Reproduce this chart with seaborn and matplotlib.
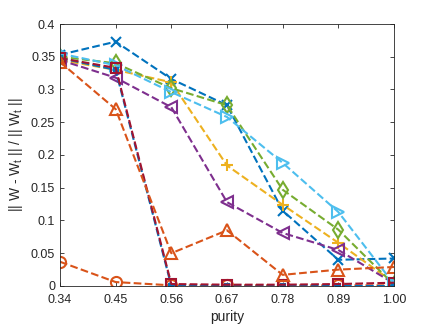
import pandas as pd
import seaborn as sns
import matplotlib
matplotlib.use('Agg')
import matplotlib.pyplot as plt

# purity levels on the x axis
purity = [0.34, 0.45, 0.56, 0.67, 0.78, 0.89, 1.00]
purity_labels = ['0.34', '0.45', '0.56', '0.67', '0.78', '0.89', '1.00']

# relative error per method
err_x = [0.353, 0.373, 0.316, 0.276, 0.115, 0.040, 0.042]
err_o = [0.037, 0.006, 0.001, 0.001, 0.001, 0.001, 0.001]
err_plus = [0.345, 0.330, 0.311, 0.184, 0.124, 0.066, 0.005]
err_left = [0.345, 0.318, 0.273, 0.128, 0.081, 0.055, 0.004]
err_diamond = [0.350, 0.340, 0.302, 0.276, 0.147, 0.086, 0.002]
err_right = [0.355, 0.337, 0.296, 0.258, 0.188, 0.113, 0.003]
err_filled = [0.348, 0.330, 0.000, 0.000, 0.000, 0.000, 0.000]
err_square = [0.348, 0.333, 0.003, 0.002, 0.002, 0.003, 0.005]
err_up = [0.342, 0.270, 0.050, 0.085, 0.017, 0.025, 0.029]

series = [
    (err_x, '#0072BD', 'x', 'none', 7),
    (err_o, '#D95319', 'o', 'none', 8),
    (err_plus, '#EDB120', '+', 'none', 9),
    (err_left, '#7E2F8E', '<', 'none', 8),
    (err_diamond, '#77AC30', 'd', 'none', 8),
    (err_right, '#4DBEEE', '>', 'none', 8),
    (err_filled, '#0072BD', 's', '#0072BD', 3),
    (err_square, '#A2142F', 's', 'none', 7),
    (err_up, '#D95319', '^', 'none', 9),
]

sns.set_style('ticks')
plt.rcParams['font.family'] = ['Liberation Sans', 'DejaVu Sans']

fig = plt.figure(figsize=(4.36, 3.27), dpi=100)
ax = fig.add_axes([0.1376, 0.1254, 0.766, 0.8012])

for vals, color, marker, face, size in series:
    df = pd.DataFrame({'purity': purity, 'err': vals})
    sns.lineplot(data=df, x='purity', y='err', ax=ax, color=color,
                 linestyle='--', linewidth=1.5, marker=marker,
                 markersize=size, markerfacecolor=face,
                 markeredgecolor=color, markeredgewidth=1.5)

ax.set_xlim(0.34, 1.00)
ax.set_ylim(0, 0.4)
ax.set_xticks(purity)
ax.set_xticklabels(purity_labels)
yt = [0, 0.05, 0.1, 0.15, 0.2, 0.25, 0.3, 0.35, 0.4]
ax.set_yticks(yt)
ax.set_yticklabels(['0', '0.05', '0.1', '0.15', '0.2', '0.25', '0.3', '0.35', '0.4'])

for s in ax.spines.values():
    s.set_visible(True)
    s.set_color('#262626')
    s.set_linewidth(0.6)
ax.tick_params(direction='in', top=True, right=True, length=3,
               width=0.6, color='#262626', labelsize=9, labelcolor='#262626')
ax.tick_params(axis='x', pad=6)
ax.set_xlabel('purity', fontsize=10, color='#262626', labelpad=3)
ax.set_ylabel(r'|| W - W$_\mathregular{t}$ || / || W$_\mathregular{t}$ ||',
              fontsize=10, color='#262626')

plt.savefig('out.png', dpi=100)
plt.close()
